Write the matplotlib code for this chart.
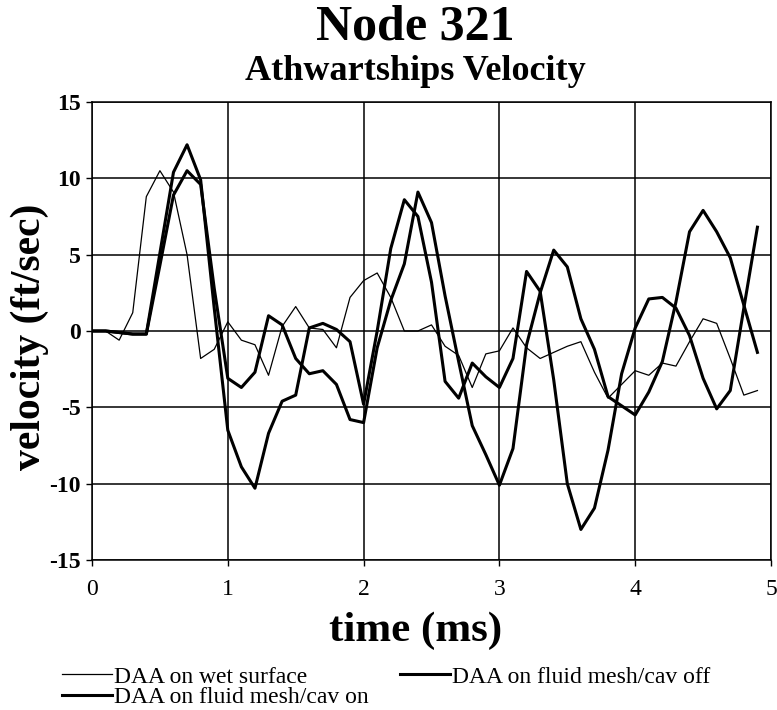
import matplotlib
matplotlib.use("Agg")
import matplotlib.pyplot as plt

# Donnees (pas de 0.1 ms)
time_ms = [0.0, 0.1, 0.2, 0.3, 0.4, 0.5, 0.6, 0.7, 0.8, 0.9,
           1.0, 1.1, 1.2, 1.3, 1.4, 1.5, 1.6, 1.7, 1.8, 1.9,
           2.0, 2.1, 2.2, 2.3, 2.4, 2.5, 2.6, 2.7, 2.8, 2.9,
           3.0, 3.1, 3.2, 3.3, 3.4, 3.5, 3.6, 3.7, 3.8, 3.9,
           4.0, 4.1, 4.2, 4.3, 4.4, 4.5, 4.6, 4.7, 4.8, 4.9]

wet_surface = [0, 0, -0.6, 1.2, 8.8, 10.5, 9.1, 5.0, -1.8, -1.2,
               0.6, -0.6, -0.9, -2.9, 0.3, 1.6, 0.2, 0.1, -1.1, 2.2,
               3.3, 3.8, 2.2, 0.0, 0.0, 0.4, -1.0, -1.6, -3.7, -1.5,
               -1.3, 0.2, -1.1, -1.8, -1.4, -1.0, -0.7, -2.7, -4.4, -3.5,
               -2.6, -2.9, -2.1, -2.3, -0.7, 0.8, 0.5, -1.8, -4.2, -3.9]

cav_off = [0, 0, -0.1, -0.2, -0.2, 4.3, 8.9, 10.5, 9.6, 2.8,
           -3.1, -3.7, -2.7, 1.0, 0.4, -1.8, -2.8, -2.6, -3.5, -5.8,
           -6.0, -1.1, 2.0, 4.4, 9.1, 7.1, 2.3, -2.0, -6.2, -8.1,
           -10.1, -7.7, -0.9, 2.5, 5.3, 4.2, 0.8, -1.2, -4.3, -4.9,
           -5.5, -4.0, -2.0, 1.9, 6.5, 7.9, 6.5, 4.8, 1.7, -1.4]

cav_on = [0, 0, -0.1, -0.2, -0.2, 5.1, 10.4, 12.2, 9.9, 1.5,
          -6.5, -8.9, -10.3, -6.7, -4.6, -4.2, 0.2, 0.5, 0.1, -0.7,
          -4.8, 0.0, 5.4, 8.6, 7.5, 3.2, -3.3, -4.4, -2.1, -3.0,
          -3.7, -1.8, 3.9, 2.6, -3.2, -10.0, -13.0, -11.6, -7.8, -2.8,
          0.2, 2.1, 2.2, 1.5, -0.3, -3.1, -5.1, -3.9, 1.5, 6.8]

x_ticks = [0, 1, 2, 3, 4, 5]
y_ticks = [-15, -10, -5, 0, 5, 10, 15]

serif = "Liberation Serif"
W, H = 777, 710
plt.rcParams["axes.unicode_minus"] = False

fig = plt.figure(figsize=(W / 100, H / 100), dpi=100)
ax = fig.add_axes([92 / W, 1 - 560 / H, (771 - 92) / W, (560 - 102) / H])

l_wet, = ax.plot(time_ms, wet_surface, color="black", lw=0.9)
l_off, = ax.plot(time_ms, cav_off, color="black", lw=2.2)
l_on, = ax.plot(time_ms, cav_on, color="black", lw=2.2)

ax.set_xlim(0, 5)
ax.set_ylim(-15, 15)
ax.set_xticks(x_ticks)
ax.set_yticks(y_ticks)
ax.grid(True, color="black", lw=1.1)
ax.set_axisbelow(True)
for s in ax.spines.values():
    s.set_linewidth(1.1)
ax.tick_params(direction="out", length=4, width=1, color="black")
ax.tick_params(axis="x", pad=10)
ax.tick_params(axis="y", pad=4)
for lab in ax.get_xticklabels():
    lab.set_fontfamily(serif)
    lab.set_fontsize(17)
for lab in ax.get_yticklabels():
    lab.set_fontfamily(serif)
    lab.set_fontsize(17)
    lab.set_fontweight("bold")

# Titres
fig.text(415 / W, 1 - 28 / H, "Node 321", ha="center", va="center",
         family=serif, weight="bold", size=36)
fig.text(415 / W, 1 - 72 / H, "Athwartships Velocity", ha="center", va="center",
         family=serif, weight="bold", size=26)
fig.text(416 / W, 1 - 631 / H, "time (ms)", ha="center", va="center",
         family=serif, weight="bold", size=31)
fig.text(30 / W, 1 - 337 / H, "velocity (ft/sec)", ha="center", va="center",
         rotation=90, family=serif, weight="bold", size=30)

# Legende : un element par position
leg_items = [(l_wet, "DAA on wet surface", 62, 677),
             (l_off, "DAA on fluid mesh/cav off", 400, 677),
             (l_on, "DAA on fluid mesh/cav on", 62, 697)]
for h, txt, lx, ly in leg_items:
    leg = ax.legend([h], [txt], loc="center left",
                    bbox_to_anchor=(lx / W, 1 - ly / H),
                    bbox_transform=fig.transFigure,
                    frameon=False, prop={"family": serif, "size": 17},
                    handlelength=2.1, handletextpad=0.12,
                    borderpad=0, borderaxespad=0)
    fig.add_artist(leg)
ax.legend_ = None

fig.savefig("out.png", dpi=100)
